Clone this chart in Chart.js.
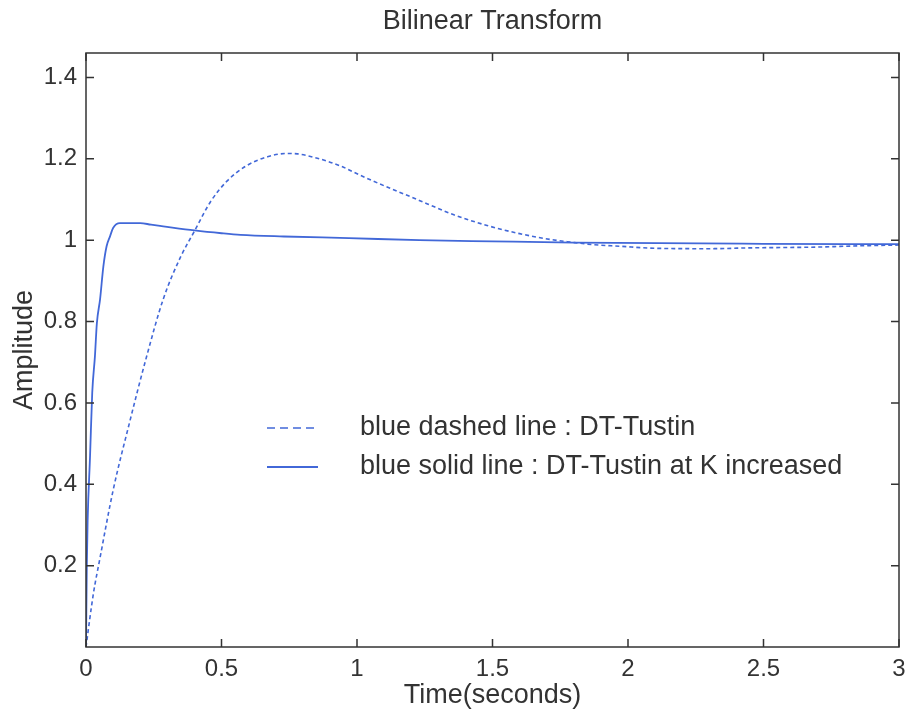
<!DOCTYPE html>
<html>
<head>
<meta charset="utf-8">
<script src="https://cdn.jsdelivr.net/npm/chart.js@4/dist/chart.umd.min.js"></script>
<style>
  html,body{margin:0;padding:0;background:#fff;}
  #wrap{width:909px;height:720px;position:relative;}
</style>
</head>
<body>
<div id="wrap"><canvas id="c" width="909" height="720"></canvas></div>
<script>
// ---- data ----
const chartTitle = 'Bilinear Transform';
const xAxisTitle = 'Time(seconds)';
const yAxisTitle = 'Amplitude';
const xTickValues = [0, 0.5, 1, 1.5, 2, 2.5, 3];
const xTickLabels = ['0', '0.5', '1', '1.5', '2', '2.5', '3'];
const yTickValues = [0.2, 0.4, 0.6, 0.8, 1.0, 1.2, 1.4];
const yTickLabels = ['0.2', '0.4', '0.6', '0.8', '1', '1.2', '1.4'];

const dashedLabel = 'blue dashed line : DT-Tustin';
const dashedTime = [0, 0.027, 0.052, 0.10, 0.16, 0.22, 0.285, 0.35, 0.40, 0.46, 0.52, 0.59, 0.67, 0.74, 0.78, 0.85, 0.94, 1.02, 1.12, 1.20, 1.26, 1.355, 1.48, 1.60, 1.72, 1.79, 1.87, 1.97, 2.10, 2.30, 2.45, 2.70, 2.85, 3.0];
const dashedValue = [0, 0.13, 0.22, 0.385, 0.55, 0.705, 0.855, 0.96, 1.022, 1.095, 1.145, 1.182, 1.205, 1.213, 1.212, 1.202, 1.182, 1.157, 1.128, 1.106, 1.089, 1.063, 1.036, 1.016, 1.001, 0.995, 0.989, 0.985, 0.980, 0.979, 0.981, 0.983, 0.986, 0.988];

const solidLabel = 'blue solid line : DT-Tustin at K increased';
const solidTime = [0, 0.003, 0.006, 0.015, 0.023, 0.033, 0.04, 0.052, 0.064, 0.076, 0.089, 0.10, 0.125, 0.2, 0.24, 0.285, 0.40, 0.50, 0.57, 0.73, 0.97, 1.23, 1.5, 1.8, 2.5, 3.0];
const solidValue = [0, 0.2, 0.31, 0.47, 0.625, 0.715, 0.795, 0.855, 0.935, 0.985, 1.01, 1.03, 1.042, 1.042, 1.038, 1.034, 1.024, 1.017, 1.013, 1.009, 1.005, 1.0, 0.997, 0.994, 0.991, 0.99];

const toPoints = (xs, ys) => xs.map((x, i) => ({x: x, y: ys[i]}));

const BLUE = 'rgb(66,104,216)';
const INK = '#333333';
const FONT = "'Liberation Sans', Arial, Helvetica, sans-serif";

const decor = {
  id: 'decor',
  afterDraw(chart) {
    const {ctx, chartArea: a, scales: {x, y}} = chart;
    ctx.save();
    // box
    ctx.strokeStyle = INK;
    ctx.lineWidth = 1.5;
    ctx.strokeRect(a.left, a.top, a.right - a.left, a.bottom - a.top);
    // inward ticks on all sides
    const TL = 8;
    ctx.beginPath();
    xTickValues.forEach(v => {
      const px = x.getPixelForValue(v);
      ctx.moveTo(px, a.bottom); ctx.lineTo(px, a.bottom - TL);
      ctx.moveTo(px, a.top); ctx.lineTo(px, a.top + TL);
    });
    yTickValues.forEach(v => {
      const py = y.getPixelForValue(v);
      ctx.moveTo(a.left, py); ctx.lineTo(a.left + TL, py);
      ctx.moveTo(a.right, py); ctx.lineTo(a.right - TL, py);
    });
    ctx.stroke();

    // titles
    ctx.fillStyle = INK;
    ctx.font = '27px ' + FONT;
    ctx.textAlign = 'center';
    ctx.textBaseline = 'middle';
    ctx.fillText(chartTitle, (a.left + a.right) / 2, 22);
    ctx.fillText(xAxisTitle, (a.left + a.right) / 2, 696);
    ctx.save();
    ctx.translate(25, 350);
    ctx.rotate(-Math.PI / 2);
    ctx.fillText(yAxisTitle, 0, 0);
    ctx.restore();

    // legend (inside plot, no box)
    const items = chart.data.datasets;
    const ly = [428, 467];
    items.forEach((ds, i) => {
      ctx.strokeStyle = ds.borderColor;
      ctx.lineWidth = ds.borderWidth;
      ctx.setLineDash(i === 0 ? [8, 5] : []);
      ctx.beginPath();
      ctx.moveTo(267, ly[i]); ctx.lineTo(318, ly[i]);
      ctx.stroke();
      ctx.setLineDash([]);
      ctx.fillStyle = INK;
      ctx.textAlign = 'left';
      ctx.fillText(ds.label, 360, ly[i]);
    });
    ctx.restore();
  }
};

new Chart(document.getElementById('c'), {
  type: 'line',
  data: {
    datasets: [
      {
        label: dashedLabel,
        data: toPoints(dashedTime, dashedValue),
        borderColor: BLUE,
        borderWidth: 1.6,
        borderDash: [4, 3],
        pointRadius: 0,
        fill: false,
        cubicInterpolationMode: 'monotone'
      },
      {
        label: solidLabel,
        data: toPoints(solidTime, solidValue),
        borderColor: BLUE,
        borderWidth: 1.8,
        pointRadius: 0,
        fill: false,
        cubicInterpolationMode: 'monotone'
      }
    ]
  },
  options: {
    responsive: false,
    animation: false,
    layout: {padding: {top: 53, right: 10, left: 0, bottom: 0}},
    plugins: {legend: {display: false}, title: {display: false}, tooltip: {enabled: false}},
    scales: {
      x: {
        type: 'linear',
        min: 0, max: 3,
        afterBuildTicks: s => { s.ticks = xTickValues.map(v => ({value: v})); },
        afterFit: s => { s.height = 73; s.paddingRight = 0; s.paddingLeft = 0; },
        grid: {display: false, drawTicks: false},
        border: {display: false},
        ticks: {
          padding: 8,
          color: INK,
          font: {family: FONT, size: 24},
          maxRotation: 0,
          callback: (v) => { const i = xTickValues.indexOf(v); return i >= 0 ? xTickLabels[i] : ''; }
        }
      },
      y: {
        type: 'linear',
        min: 0, max: 1.46,
        afterBuildTicks: s => { s.ticks = yTickValues.map(v => ({value: v})); },
        afterFit: s => { s.width = 86; s.paddingTop = 0; s.paddingBottom = 0; },
        grid: {display: false, drawTicks: false},
        border: {display: false},
        ticks: {
          padding: 9,
          color: INK,
          font: {family: FONT, size: 24},
          callback: (v) => { const i = yTickValues.findIndex(t => Math.abs(t - v) < 1e-9); return i >= 0 ? yTickLabels[i] : ''; }
        }
      }
    }
  },
  plugins: [decor]
});
</script>
</body>
</html>
